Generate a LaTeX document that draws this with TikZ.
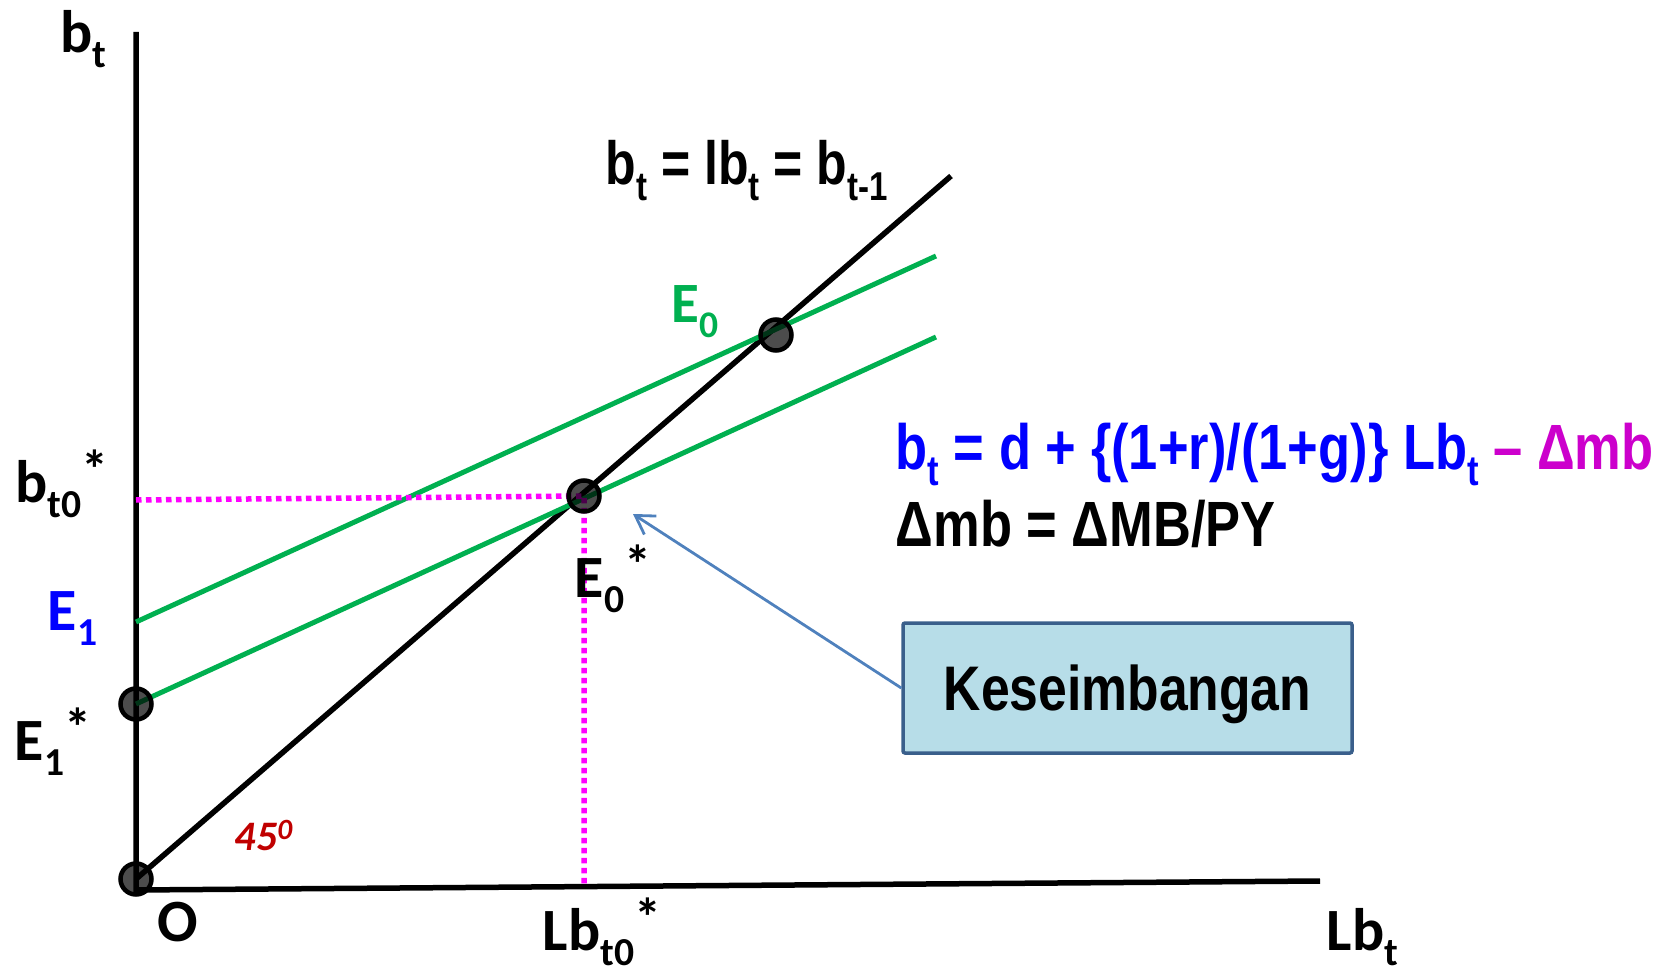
\documentclass[tikz,border=0pt]{standalone}
\usepackage{fontspec}
\setmainfont{Carlito}
\newfontfamily\arialn[FakeStretch=0.82]{Liberation Sans}
\usetikzlibrary{arrows.meta}

\definecolor{eqgreen}{HTML}{00B050}
\definecolor{eqmag}{HTML}{CC00CC}
\definecolor{guidemag}{HTML}{FF00FF}
\definecolor{eqblue}{HTML}{0000FF}
\definecolor{degred}{HTML}{C00000}
\definecolor{callblue}{HTML}{4F81BD}
\definecolor{boxline}{HTML}{3A5F8B}
\definecolor{boxfill}{HTML}{B7DDE8}

% lowered and raised small text
\newcommand{\dn}[1]{\raisebox{-.25em}{\scalebox{.66}{#1}}}
\newcommand{\up}[1]{\raisebox{.22em}{\scalebox{.9}{#1}}}

\begin{document}
\begin{tikzpicture}[x=1pt,y=-1pt,line width=5.5pt,
  lbl/.style={anchor=base west,inner sep=0pt,font=\fontsize{60}{60}\selectfont\bfseries},
  eqn/.style={anchor=base west,inner sep=0pt,font=\fontsize{64}{64}\selectfont\arialn\bfseries},
  dot/.style={circle,draw=black,line width=4.5pt,fill=black,fill opacity=.7,minimum size=31pt,inner sep=0pt},
  guide/.style={draw=guidemag,line width=5.5pt,dash pattern=on 5.5pt off 4.5pt},
  curve/.style={draw=eqgreen,line width=5pt},
  callbox/.style={draw=boxline,fill=boxfill,line width=3.5pt,rounded corners=2pt,minimum width=449pt,minimum height=130pt,text depth=0pt,font=\fontsize{63}{63}\selectfont\arialn\bfseries},
  pointer/.style={draw=callblue,line width=2.8pt,-{Straight Barb[length=18pt,width=22pt]}}]
\path[use as bounding box] (0,0) rectangle (1665,973);
% axes
\coordinate (ytop) at (136,32);
\coordinate (orig) at (136,890);
\coordinate (xend) at (1320,881);
\draw (ytop) -- (orig) -- (xend);
% curves
\coordinate (diagend) at (951,176);
\coordinate (eone) at (136,622);
\coordinate (eoneend) at (936,256);
\coordinate (eonesend) at (936,337);
\coordinate (btzero) at (136,500);
\coordinate (lbtzero) at (584,886);
\draw (136,879) -- (diagend);
\draw[curve] (eone) -- (eoneend);
\draw[curve] (136,704) -- (eonesend);
\draw[guide] (btzero) -- (584,496) -- (lbtzero);
% points
\node[dot] (odot) at (136,879) {};
\node[dot] (eonestar) at (136,704) {};
\node[dot] (ezerostar) at (584,496) {};
\node[dot] (ezero) at (776,335) {};
% labels
\node[lbl] (bt) at (58,53) {b\dn{t}};
\node[lbl] (btz) at (13,502) {b\dn{t0}\up{*}};
\node[lbl,text=eqblue] (Eone) at (45,630) {E\dn{1}};
\node[lbl] (Eones) at (12,760) {E\dn{1}\up{*}};
\node[lbl] (Olbl) at (155,941) {O};
\node[lbl] (lbtz) at (540,950) {Lb\dn{t0}\up{*}};
\node[lbl] (lbt) at (1324,950) {Lb\dn{t}};
\node[lbl,text=eqgreen,font=\fontsize{57}{57}\selectfont\bfseries] (Ezero) at (669,323) {E\dn{0}};
\node[lbl] (Ezeros) at (572,597) {E\dn{0}\up{*}};
\node[lbl,text=degred,font=\fontsize{42}{42}\selectfont\bfseries\itshape] (deg) at (232,850) {45\raisebox{.25em}{\scalebox{.7}{0}}};
% equations
\node[eqn,font=\fontsize{61}{61}\selectfont\arialn\bfseries] (diageq) at (603,185) {b\dn{t} = lb\dn{t} = b\dn{t-1}};
\node[eqn] (lineeq) at (893,469) {\textcolor{eqblue}{b\dn{t} = d + \{(1+r)/(1+g)\} Lb\dn{t}} \textcolor{eqmag}{– Δmb}};
\node[eqn] (mbeq) at (893,546) {Δmb = ΔMB/PY};
% callout
\node[callbox] (keseim) at (1127.5,688) {Keseimbangan};
\coordinate (eqtip) at (633,514);
\draw[pointer] (keseim.west) -- (eqtip);
\end{tikzpicture}
\end{document}
